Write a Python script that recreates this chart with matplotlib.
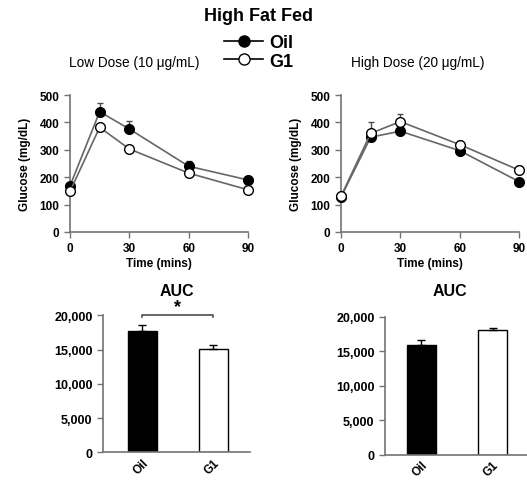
import matplotlib
matplotlib.use("Agg")
import matplotlib.pyplot as plt
from matplotlib.lines import Line2D
from matplotlib.ticker import FuncFormatter

plt.rcParams['font.family'] = ['Liberation Sans', 'DejaVu Sans']

time = [0, 15, 30, 60, 90]

# low dose (10 ug/mL)
low_oil = [168, 439, 376, 240, 190]
low_oil_err = [8, 32, 30, 18, 8]
low_g1 = [148, 382, 303, 215, 154]
low_g1_err = [5, 6, 8, 6, 5]

# high dose (20 ug/mL)
high_oil = [127, 346, 368, 297, 184]
high_oil_err = [5, 8, 8, 8, 6]
high_g1 = [130, 360, 403, 319, 226]
high_g1_err = [5, 40, 28, 12, 14]

groups = ['Oil', 'G1']
low_auc = [17750, 15080]
low_auc_err = [850, 550]
high_auc = [15940, 18070]
high_auc_err = [730, 250]

AXC = '0.45'

fig = plt.figure(figsize=(5.27, 4.81), dpi=100)


def style(ax, size):
    for s in ['top', 'right']:
        ax.spines[s].set_visible(False)
    for s in ['left', 'bottom']:
        ax.spines[s].set_color(AXC)
        ax.spines[s].set_linewidth(1.2)
    ax.tick_params(colors=AXC, labelcolor='black', labelsize=size, width=1, length=4)
    for lab in ax.get_yticklabels() + ax.get_xticklabels():
        lab.set_fontweight('bold')


def line_panel(rect, oil, oil_err, g1, g1_err):
    ax = fig.add_axes(rect)
    zeros = [0] * len(time)
    ax.errorbar(time, oil, yerr=[zeros, oil_err], color='0.4', lw=1.2,
                marker='o', ms=7, mfc='black', mec='black', ecolor='0.3',
                elinewidth=1, capsize=2.5, clip_on=False, zorder=3)
    ax.errorbar(time, g1, yerr=[zeros, g1_err], color='0.4', lw=1.2,
                marker='o', ms=7, mfc='white', mec='black', ecolor='0.3',
                elinewidth=1, capsize=2.5, clip_on=False, zorder=4)
    ax.set_xlim(0, 90)
    ax.set_ylim(0, 500)
    ax.set_xticks([0, 30, 60, 90])
    ax.set_yticks(range(0, 501, 100))
    ax.set_xlabel('Time (mins)', fontsize=8.5, fontweight='bold', labelpad=2)
    ax.set_ylabel('Glucose (mg/dL)', fontsize=8.5, fontweight='bold', labelpad=6)
    style(ax, 8.5)
    return ax


def bar_panel(rect, vals, errs, xlim):
    ax = fig.add_axes(rect)
    x = range(len(groups))
    ax.bar(x, vals, width=0.41, color=['black', 'white'], edgecolor='black',
           lw=1, zorder=2)
    ax.errorbar(x, vals, yerr=[[0, 0], errs], fmt='none', ecolor='black',
                elinewidth=1, capsize=3, zorder=3)
    ax.set_xlim(*xlim)
    ax.set_ylim(0, 20000)
    ax.set_yticks(range(0, 20001, 5000))
    ax.yaxis.set_major_formatter(FuncFormatter(lambda v, p: f'{int(v):,}'))
    ax.set_xticks(list(x))
    ax.set_xticklabels(groups, rotation=45, ha='right', rotation_mode='anchor')
    style(ax, 9)
    ax.tick_params(axis='x', length=0, pad=3, labelsize=8.5)
    return ax


line_panel([0.1328, 0.5156, 0.3378, 0.2848], low_oil, low_oil_err, low_g1, low_g1_err)
line_panel([0.647, 0.5156, 0.3378, 0.2848], high_oil, high_oil_err, high_g1, high_g1_err)

axl = bar_panel([0.1954, 0.0576, 0.279, 0.2848], low_auc, low_auc_err, (-0.556, 1.514))
axr = bar_panel([0.7306, 0.0526, 0.2694, 0.287], high_auc, high_auc_err, (-0.508, 1.48))

# significance bracket
axl.plot([0, 0, 1, 1], [19700, 20000, 20000, 19700], color='0.3', lw=1.2, clip_on=False)
axl.text(0.5, 20100, '*', ha='center', va='bottom', fontsize=13, fontweight='bold')

fig.text(0.336, 0.393, 'AUC', ha='center', va='center', fontsize=11.5, fontweight='bold')
fig.text(0.854, 0.393, 'AUC', ha='center', va='center', fontsize=11.5, fontweight='bold')

fig.text(0.49, 0.965, 'High Fat Fed', ha='center', va='center', fontsize=13, fontweight='bold')
fig.text(0.254, 0.869, 'Low Dose (10 \u03bcg/mL)', ha='center', va='center', fontsize=9.8)
fig.text(0.793, 0.869, 'High Dose (20 \u03bcg/mL)', ha='center', va='center', fontsize=9.8)

handles = [
    Line2D([], [], color='black', lw=1.2, marker='o', ms=8, mfc='black', mec='black'),
    Line2D([], [], color='black', lw=1.2, marker='o', ms=8, mfc='white', mec='black'),
]
fig.legend(handles, groups, loc='center', bbox_to_anchor=(0.49, 0.89), frameon=False,
           prop={'size': 13, 'weight': 'bold'}, handlelength=2.2, handletextpad=0.3,
           labelspacing=0.1, borderpad=0)

fig.savefig('out.png', dpi=100)
